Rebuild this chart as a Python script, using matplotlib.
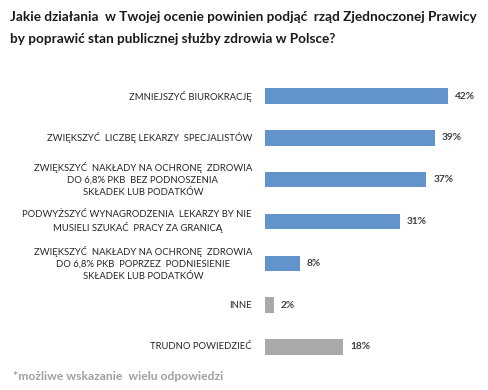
import matplotlib
matplotlib.use("Agg")
import matplotlib.pyplot as plt
import matplotlib.transforms as mtransforms

categories = [
    "ZMNIEJSZYĆ BIUROKRACJĘ",
    "ZWIĘKSZYĆ  LICZBĘ LEKARZY  SPECJALISTÓW",
    "ZWIĘKSZYĆ  NAKŁADY NA OCHRONĘ  ZDROWIA\nDO 6,8% PKB  BEZ PODNOSZENIA\nSKŁADEK LUB PODATKÓW",
    "PODWYŻSZYĆ WYNAGRODZENIA  LEKARZY BY NIE\nMUSIELI SZUKAĆ  PRACY ZA GRANICĄ",
    "ZWIĘKSZYĆ  NAKŁADY NA OCHRONĘ  ZDROWIA\nDO 6,8% PKB  POPRZEZ  PODNIESIENIE\nSKŁADEK LUB PODATKÓW",
    "INNE",
    "TRUDNO POWIEDZIEĆ",
]
values = [42, 39, 37, 31, 8, 2, 18]
value_labels = ["42%", "39%", "37%", "31%", "8%", "2%", "18%"]
colors = ["#6393CB"] * 5 + ["#A9A9A9"] * 2

title_lines = ["Jakie działania  w Twojej ocenie powinien podjąć  rząd Zjednoczonej Prawicy",
               "by poprawić stan publicznej służby zdrowia w Polsce?"]
footnote = "*możliwe wskazanie  wielu odpowiedzi"

W, H = 488, 390
fig = plt.figure(figsize=(W / 100, H / 100), dpi=100)
fig.patch.set_facecolor("white")

left_px, right_px = 265, 483
top_px, bot_px = 75.1, 367.9
ax = fig.add_axes([left_px / W, 1 - bot_px / H, (right_px - left_px) / W, (bot_px - top_px) / H])
ypos = list(range(len(values)))
ax.barh(ypos, values, height=0.37, color=colors)
ax.set_xlim(0, 50)
ax.set_ylim(len(values) - 0.5, -0.5)
ax.axis("off")

font = "Lato"
lab_trans = mtransforms.offset_copy(ax.transData, fig=fig, x=-13, y=0, units="dots")
for y, c in zip(ypos, categories):
    ax.text(0, y, c, transform=lab_trans, ha="right", va="center", multialignment="center",
            fontsize=6.8, color="#262626", family=font, linespacing=1.42)

val_trans = mtransforms.offset_copy(ax.transData, fig=fig, x=7, y=0, units="dots")
for y, v, t in zip(ypos, values, value_labels):
    ax.text(v, y, t, transform=val_trans, ha="left", va="center",
            fontsize=7.3, color="#404040", family=font, fontweight="bold")

for yc, line in zip([17, 39], title_lines):
    fig.text(10 / W, 1 - yc / H, line, ha="left", va="center", fontsize=9.8, fontweight="bold",
             family=font, color="#1a1a1a")
fig.text(13 / W, 1 - 377 / H, footnote, ha="left", va="center", fontsize=8.7,
         fontweight="bold", family=font, color="#A0A0A0")

fig.savefig("out.png", dpi=100)
